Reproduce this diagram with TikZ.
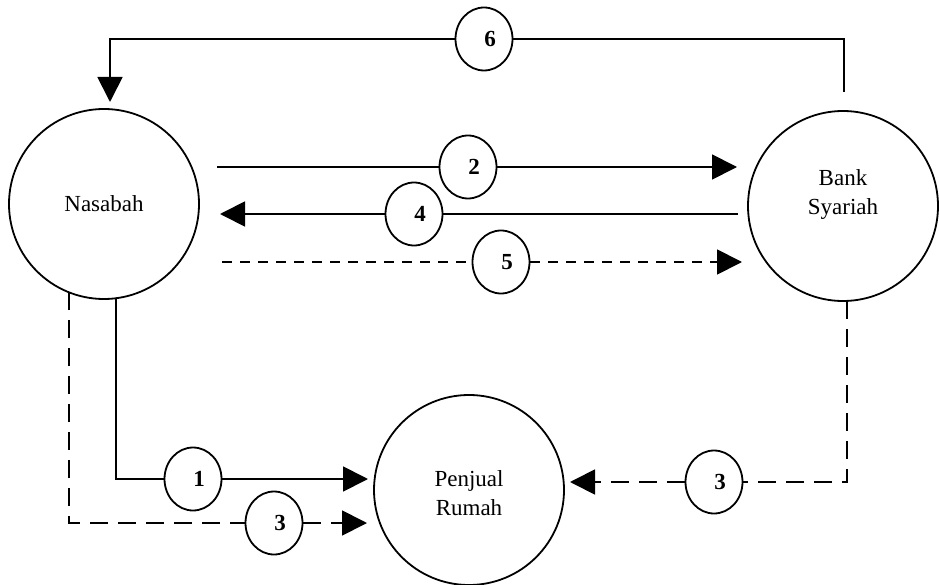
\documentclass[tikz,border=0pt]{standalone}
\usepackage{fontspec}
\setmainfont{Liberation Serif}
\usetikzlibrary{arrows.meta,shapes.geometric}
\newcommand{\stepdigit}[1]{\hspace*{12pt}#1}
\begin{document}
\begin{tikzpicture}[x=1pt,y=-1pt,
  line width=1.8pt,
  party/.style={circle,draw,minimum size=190pt,inner sep=0pt},
  partytext/.style={font=\fontsize{23}{29}\selectfont,align=center},
  stepno/.style={ellipse,draw,minimum width=57pt,minimum height=63pt,inner sep=0pt,
    font=\fontsize{23}{26}\selectfont\bfseries},
  flow/.style={-{Triangle[length=25pt,width=25pt]}},
  dashA/.style={dash pattern=on 10pt off 8pt},
  dashB/.style={dash pattern=on 18pt off 10pt}]
\useasboundingbox (0,0) rectangle (939,585);

% parties
\node[party] (nas) at (104,204) {};
\node[partytext] at (nas) {Nasabah};
\node[party] (bank) at (843,206) {};
\node[partytext] (banktext) at (843,195) {Bank\\Syariah};
\node[party] (penj) at (469,490) {};
\node[partytext] (penjtext) at (469,493) {Penjual\\Rumah};

% step markers (digits sit a little right of centre)
\node[stepno] (c6) at (484,39) {\stepdigit{6}};
\node[stepno] (c2) at (468,167) {\stepdigit{2}};
\node[stepno] (c4) at (414,214) {\stepdigit{4}};
\node[stepno] (c5) at (501,262) {\stepdigit{5}};
\node[stepno] (c1) at (193,479) {\stepdigit{1}};
\node[stepno] (c3a) at (274,523) {\stepdigit{3}};
\node[stepno] (c3b) at (714,482) {\stepdigit{3}};

% free line ends
\coordinate (s6) at (844,92);
\coordinate (t6) at (110,102);
\coordinate (s2) at (217,167);
\coordinate (t2) at (737,167);
\coordinate (s4) at (738,214);
\coordinate (t4) at (220,214);
\coordinate (s5) at (222,262);
\coordinate (t5) at (742,262);
\coordinate (s1) at (116,298);
\coordinate (t1) at (368,479);
\coordinate (s3a) at (69,292);
\coordinate (t3a) at (367,523);
\coordinate (s3b) at (847,301);
\coordinate (t3b) at (570,482);

% 6: bank back to customer over the top
\draw (s6) |- (c6.east);
\draw[flow] (c6.west) -| (t6);

% 2, 4, 5 between customer and bank
\draw (s2) -- (c2.west);
\draw[flow] (c2.east) -- (t2);
\draw (s4) -- (c4.east);
\draw[flow] (c4.west) -- (t4);
\draw[dashA] (s5) -- (c5.west);
\draw[dashA,flow] (c5.east) -- (t5);

% 1 and 3 towards the seller
\draw (s1) |- (c1.west);
\draw[flow] (c1.east) -- (t1);
\draw[dashB] (s3a) |- (c3a.west);
\draw[dashB,flow] (c3a.east) -- (t3a);
\draw[dashB] (s3b) |- (c3b.east);
\draw[dashB,flow] (c3b.west) -- (t3b);
\end{tikzpicture}
\end{document}
